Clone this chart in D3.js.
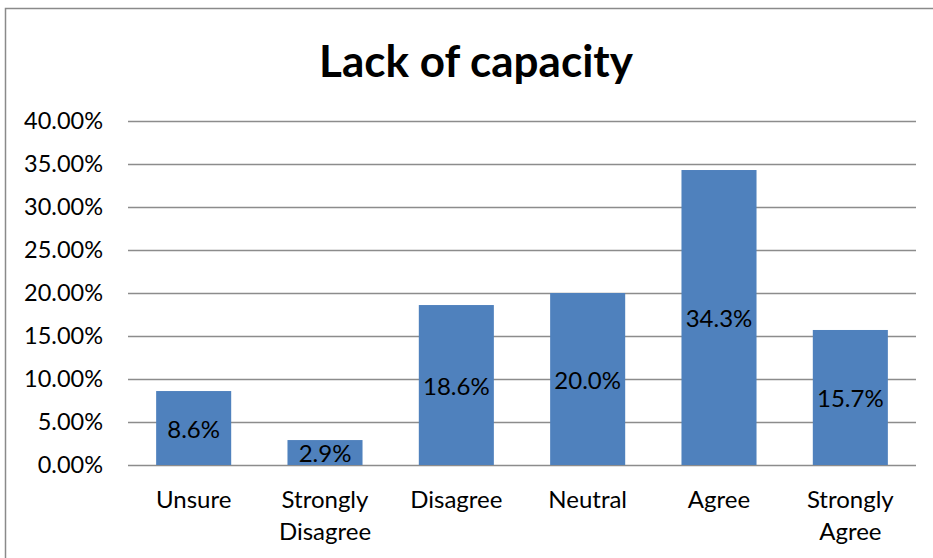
<!DOCTYPE html>
<html>
<head>
<meta charset="utf-8">
<script src="https://cdn.jsdelivr.net/npm/d3@7"></script>
<style>
  html, body { margin: 0; padding: 0; background: #fff; }
  svg { display: block; }
  text { font-family: "Lato", "Open Sans", sans-serif; fill: #000; }
</style>
</head>
<body>
<svg id="chart" width="933" height="558"></svg>
<script>
const categories = [["Unsure"], ["Strongly", "Disagree"], ["Disagree"], ["Neutral"], ["Agree"], ["Strongly", "Agree"]];
const values = [8.6, 2.9, 18.6, 20.0, 34.3, 15.7];
const yTicks = [0, 5, 10, 15, 20, 25, 30, 35, 40];
const title = "Lack of capacity";

const svg = d3.select("#chart");
const plot = { left: 128, right: 916, top: 121, bottom: 465 };

// chart frame
svg.append("rect")
  .attr("x", 5.5).attr("y", 8.5)
  .attr("width", 950).attr("height", 600)
  .attr("fill", "#fff").attr("stroke", "#8a8a8a").attr("stroke-width", 1.5);

const x = d3.scaleBand()
  .domain(d3.range(categories.length))
  .range([plot.left, plot.right])
  .paddingInner(0.75 / 1.75)
  .paddingOuter(0.375 / 1.75);

const y = d3.scaleLinear().domain([0, 40]).range([plot.bottom, plot.top]);

// gridlines and y labels
const yAxis = d3.axisLeft(y)
  .tickValues(yTicks)
  .tickSize(-(plot.right - plot.left))
  .tickPadding(25)
  .tickFormat(d => d.toFixed(2) + "%");

const gy = svg.append("g")
  .attr("transform", `translate(${plot.left},0)`)
  .call(yAxis);
gy.select(".domain").remove();
gy.selectAll(".tick line").attr("stroke", "#8c8c8c").attr("stroke-width", 1.5);
gy.selectAll(".tick text")
  .attr("font-size", 23.5)
  .attr("font-family", "Lato, sans-serif")
  .attr("fill", "#000");

// bars
svg.append("g").selectAll("rect")
  .data(values)
  .join("rect")
  .attr("x", (d, i) => x(i))
  .attr("width", x.bandwidth())
  .attr("y", d => y(d))
  .attr("height", d => y(0) - y(d))
  .attr("fill", "#4F81BD");

// value labels, centred in each bar
svg.append("g").selectAll("text")
  .data(values)
  .join("text")
  .attr("x", (d, i) => x(i) + x.bandwidth() / 2)
  .attr("y", d => (y(d) + y(0)) / 2)
  .attr("text-anchor", "middle")
  .attr("dominant-baseline", "central")
  .attr("font-size", 24)
  .text(d => d.toFixed(1) + "%");

// category labels
const xl = svg.append("g").selectAll("text")
  .data(categories)
  .join("text")
  .attr("x", (d, i) => x(i) + x.bandwidth() / 2)
  .attr("y", 508)
  .attr("text-anchor", "middle")
  .attr("font-size", 24);
xl.selectAll("tspan")
  .data(d => d)
  .join("tspan")
  .attr("x", function () { return this.parentNode.getAttribute("x"); })
  .attr("dy", (d, i) => i === 0 ? 0 : 32)
  .text(d => d);

// title
svg.append("text")
  .attr("x", 476)
  .attr("y", 77)
  .attr("text-anchor", "middle")
  .attr("font-size", 44)
  .attr("font-weight", "bold")
  .text(title);
</script>
</body>
</html>
